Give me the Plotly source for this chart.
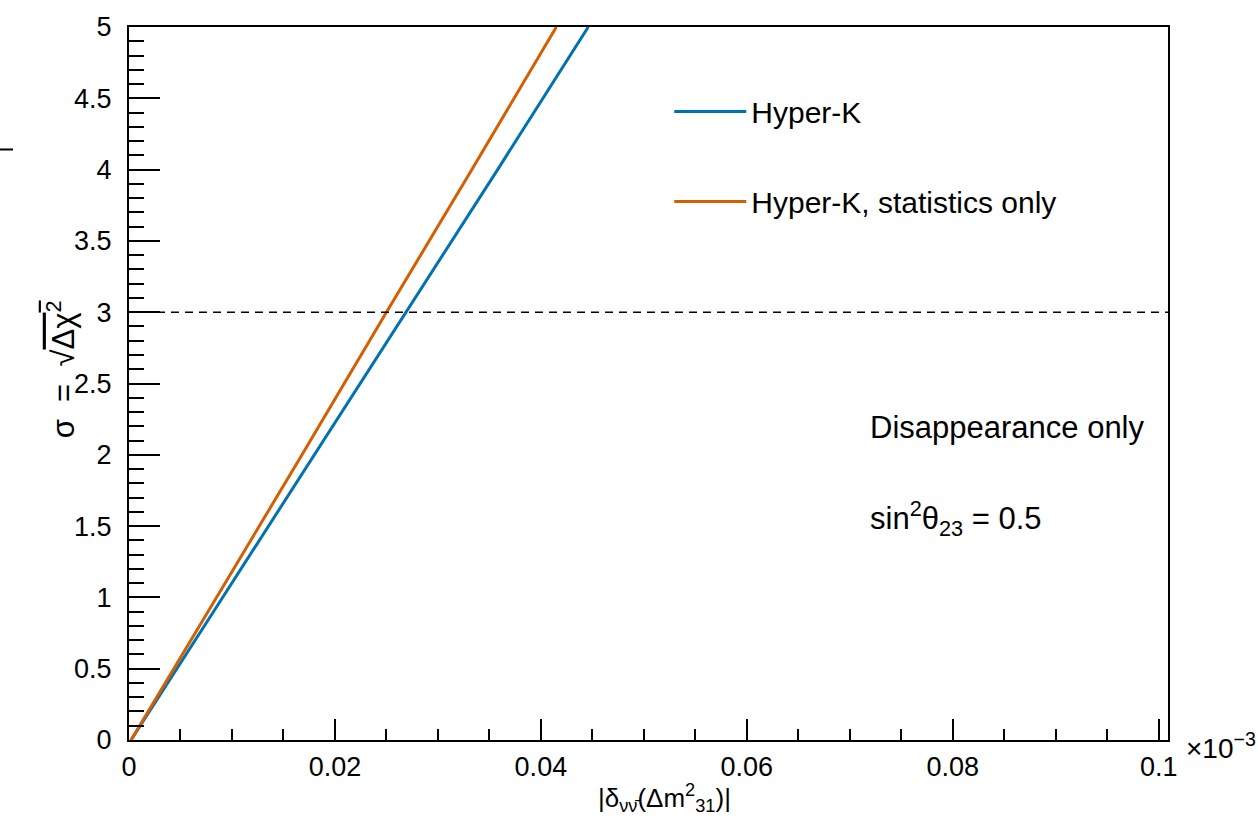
import plotly.graph_objects as go

# ---- data ----
sigma = [0, 1, 2, 3, 4, 5]
delta_hk = [0.0002, 0.0091, 0.0180, 0.0269, 0.0358, 0.0446]        # Hyper-K
delta_hk_stat = [0.0002, 0.0085, 0.0168, 0.0250, 0.0333, 0.0415]   # Hyper-K, statistics only
threshold = 3
x_ticks = [0, 0.02, 0.04, 0.06, 0.08, 0.1]
x_tick_text = ["0", "0.02", "0.04", "0.06", "0.08", "0.1"]
y_ticks = [0, 0.5, 1, 1.5, 2, 2.5, 3, 3.5, 4, 4.5, 5]
y_tick_text = ["0", "0.5", "1", "1.5", "2", "2.5", "3", "3.5", "4", "4.5", "5"]
x_range = [0, 0.1009]
y_range = [0, 5]

BLUE = "rgb(0,114,178)"
ORANGE = "rgb(213,94,0)"
FONT = "Liberation Sans, Arial, Helvetica, sans-serif"

fig = go.Figure()
fig.add_trace(go.Scatter(x=delta_hk, y=sigma, mode="lines", name="Hyper-K",
                         legendgroup="a", line=dict(color=BLUE, width=3)))
fig.add_trace(go.Scatter(x=delta_hk_stat, y=sigma, mode="lines", name="Hyper-K, statistics only",
                         legendgroup="b", line=dict(color=ORANGE, width=3)))

fig.add_shape(type="line", xref="paper", yref="y", x0=0, x1=1, y0=threshold, y1=threshold,
              line=dict(color="black", width=1.5, dash="8px,6px"))
# small stray mark at the far left of the reference
fig.add_shape(type="line", xref="paper", yref="paper", x0=-129 / 1039, x1=-116 / 1039,
              y0=(740 - 147) / 716, y1=(740 - 147) / 716, line=dict(color="black", width=2))

fig.update_layout(
    width=1258, height=818, autosize=False,
    margin=dict(l=129, r=90, t=24, b=78),
    paper_bgcolor="white", plot_bgcolor="white",
    font=dict(family=FONT, color="black", size=27),
    showlegend=True,
    legend=dict(x=0.52, y=0.918, xanchor="left", yanchor="top",
                font=dict(size=30), tracegroupgap=48, itemwidth=72,
                bgcolor="rgba(0,0,0,0)", traceorder="grouped"),
    xaxis=dict(range=x_range, tickvals=x_ticks, ticktext=x_tick_text,
               showgrid=False, zeroline=False, showline=True, linecolor="black", linewidth=2,
               mirror=True, ticks="inside", ticklen=21, tickwidth=1.5, tickcolor="black",
               tickfont=dict(size=27), ticklabelstandoff=2,
               minor=dict(dtick=0.005, ticks="inside", ticklen=11, tickwidth=1.5,
                          tickcolor="black", showgrid=False)),
    yaxis=dict(range=y_range, tickvals=y_ticks, ticktext=y_tick_text,
               showgrid=False, zeroline=False, showline=True, linecolor="black", linewidth=2,
               mirror=True, ticks="inside", ticklen=31, tickwidth=1.5, tickcolor="black",
               tickfont=dict(size=27), ticklabelstandoff=10,
               minor=dict(dtick=0.1, ticks="inside", ticklen=15, tickwidth=1.5,
                          tickcolor="black", showgrid=False)),
)

# axis titles & texts
fig.add_annotation(xref="paper", yref="paper", x=0.515, y=0, yshift=-58,
                   xanchor="center", yanchor="middle", showarrow=False,
                   text="|δ<sub>νν̄</sub>(Δm<sup>2</sup><sub>31</sub>)|", font=dict(size=26))
fig.add_annotation(xref="paper", yref="paper", x=0, xshift=-68, y=0.52,
                   xanchor="center", yanchor="middle", showarrow=False, textangle=-90,
                   text="σ  =  √<span style='text-decoration:overline'>Δχ<sup>2</sup></span>",
                   font=dict(size=31))
fig.add_annotation(xref="paper", yref="paper", x=1, xshift=16, y=0, yshift=-6,
                   xanchor="left", yanchor="middle", showarrow=False,
                   text="×10<sup>−3</sup>", font=dict(size=28))
fig.add_annotation(xref="paper", yref="paper", x=0.711, y=0.438,
                   xanchor="left", yanchor="middle", showarrow=False,
                   text="Disappearance only", font=dict(size=31))
fig.add_annotation(xref="paper", yref="paper", x=0.711, y=0.31,
                   xanchor="left", yanchor="middle", showarrow=False,
                   text="sin<sup>2</sup>θ<sub>23</sub> = 0.5", font=dict(size=31))

fig.write_html("out.html")
